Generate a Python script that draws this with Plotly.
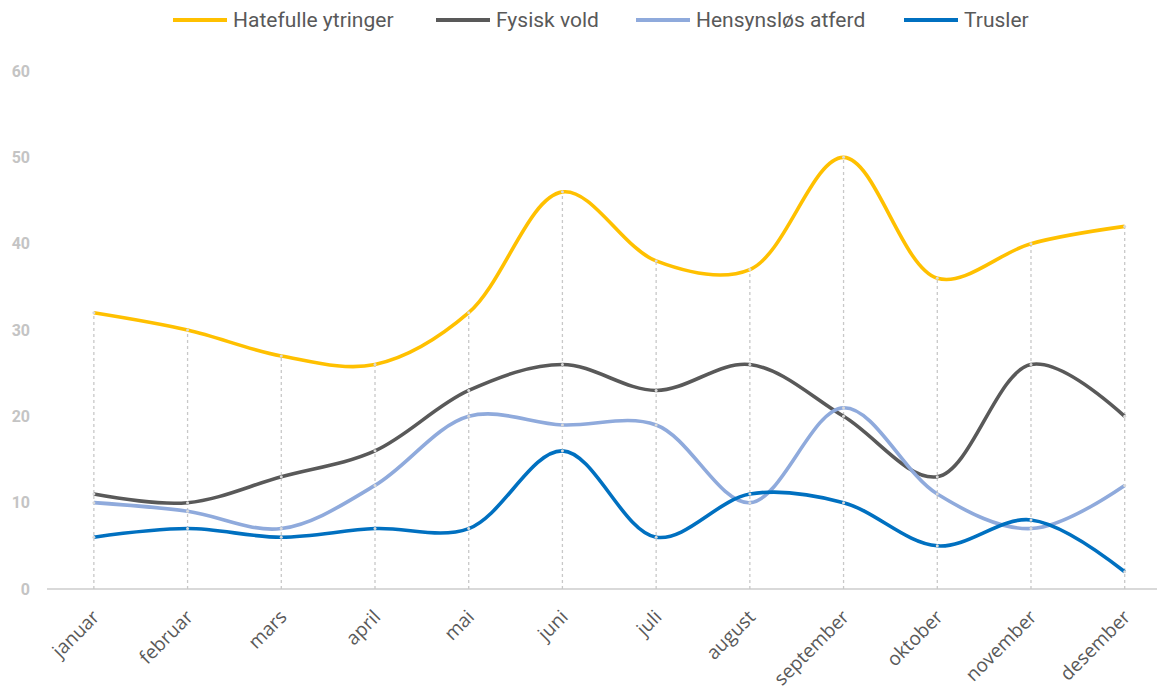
import plotly.graph_objects as go

months = ["januar", "februar", "mars", "april", "mai", "juni", "juli",
          "august", "september", "oktober", "november", "desember"]
hatefulle = [32, 30, 27, 26, 32, 46, 38, 37, 50, 36, 40, 42]
fysisk = [11, 10, 13, 16, 23, 26, 23, 26, 20, 13, 26, 20]
hensynslos = [10, 9, 7, 12, 20, 19, 19, 10, 21, 11, 7, 12]
trusler = [6, 7, 6, 7, 7, 16, 6, 11, 10, 5, 8, 2]
y_ticks = [0, 10, 20, 30, 40, 50, 60]

series_names = ["Hatefulle ytringer", "Fysisk vold", "Hensynsløs atferd", "Trusler"]
series_values = [hatefulle, fysisk, hensynslos, trusler]
series_colors = ["#FFC000", "#595959", "#8FAADC", "#0070C0"]

# page body has an 8px margin, so the figure is offset by 8px
OFF = 8
W, H = 1165 - OFF, 693 - OFF
ML, MR, MT, MB = 47 - OFF, 0, 71 - OFF, 104
PW, PH = W - ML - MR, H - MT - MB

fig = go.Figure()

# drop lines from axis to highest point per month
maxes = [max(v) for v in zip(*series_values)]
dx, dy = [], []
for m, mx in zip(months, maxes):
    dx += [m, m, None]
    dy += [0, mx, None]
fig.add_trace(go.Scatter(x=dx, y=dy, mode="lines", showlegend=False,
                         hoverinfo="skip",
                         line=dict(color="#C8C8C8", width=1.3, dash="dot")))

for name, vals, color in zip(series_names, series_values, series_colors):
    fig.add_trace(go.Scatter(
        x=months, y=vals, name=name, mode="lines+markers", showlegend=False,
        line=dict(color=color, width=3.6, shape="spline", smoothing=1.0),
        marker=dict(size=3, color="#D9D9D9", line=dict(width=0)),
        cliponaxis=False,
    ))

# custom legend (page-pixel layout converted to paper coordinates)
leg_sample_x = [173, 436, 636, 904]
leg_y_px = 20
sample_len = 54
shapes, annos = [], []
ly = (H - MB - (leg_y_px - OFF)) / PH
for name, color, sx in zip(series_names, series_colors, leg_sample_x):
    px = sx - OFF
    x0 = (px - ML) / PW
    x1 = (px + sample_len - ML) / PW
    shapes.append(dict(type="line", xref="paper", yref="paper",
                       x0=x0, x1=x1, y0=ly, y1=ly,
                       line=dict(color=color, width=4)))
    annos.append(dict(xref="paper", yref="paper", x=(px + sample_len + 4 - ML) / PW,
                      y=ly, xanchor="left", yanchor="middle", showarrow=False,
                      text=name,
                      font=dict(family="Roboto, sans-serif", size=21, color="#595959")))

fig.update_layout(
    width=W, height=H,
    margin=dict(l=ML, r=MR, t=MT, b=MB),
    paper_bgcolor="white", plot_bgcolor="white",
    showlegend=False,
    shapes=shapes, annotations=annos,
    xaxis=dict(type="category", range=[-0.5, 11.43], showgrid=False,
               showline=False, zeroline=False, ticks="", tickangle=-45,
               automargin=False, ticklabelstandoff=12,
               tickfont=dict(family="Open Sans, sans-serif", size=19, color="#595959")),
    yaxis=dict(range=[0, 60], tickvals=y_ticks, showgrid=False, zeroline=True,
               zerolinecolor="#D9D9D9", zerolinewidth=2, showline=False, ticks="",
               ticklabelstandoff=16, automargin=False,
               tickfont=dict(family="Roboto, sans-serif", size=16, color="#C4C4C4",
                             weight="bold")),
)

fig.write_html("out.html")
